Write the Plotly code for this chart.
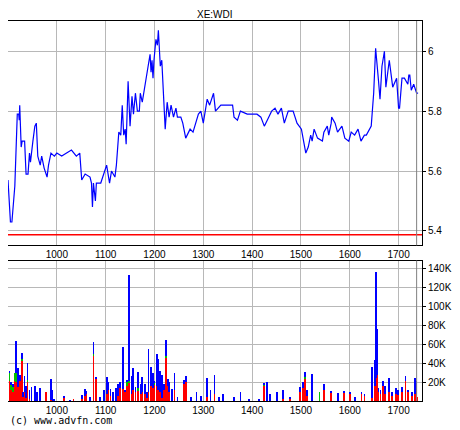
import plotly.graph_objects as go
from plotly.subplots import make_subplots

# price line (minute index, price)
price_x = [900, 905, 908, 914, 919, 922, 923, 924, 927, 929, 934, 937, 941, 944, 946, 949, 951,
           955, 958, 961, 966, 969, 974, 980, 983, 988, 995, 1000, 1010, 1020, 1030, 1040, 1047,
           1051, 1058, 1068, 1071, 1073, 1075, 1079, 1081, 1090, 1094, 1102, 1108, 1112, 1119,
           1122, 1127, 1131, 1134, 1137, 1140, 1142, 1146, 1150, 1154, 1157, 1161, 1165, 1169,
           1171, 1175, 1180, 1185, 1191, 1193, 1195, 1197, 1199, 1203, 1206, 1208, 1212, 1215,
           1219, 1222, 1226, 1230, 1234, 1239, 1244, 1247, 1254, 1258, 1264, 1273, 1279, 1285,
           1290, 1295, 1300, 1304, 1308, 1313, 1321, 1325, 1336, 1360, 1363, 1370, 1376, 1390,
           1410, 1418, 1425, 1434, 1440, 1447, 1453, 1460, 1466, 1474, 1484, 1492, 1501, 1510,
           1515, 1520, 1523, 1527, 1534, 1544, 1547, 1554, 1557, 1562, 1563, 1570, 1575, 1584,
           1590, 1598, 1603, 1610, 1617, 1623, 1630, 1634, 1644, 1649, 1653, 1659, 1662, 1666,
           1671, 1674, 1681, 1688, 1696, 1700, 1702, 1707, 1712, 1719, 1721, 1723, 1726, 1731,
           1737, 1740, 1745]
price_y = [5.57, 5.43, 5.43, 5.55, 5.79, 5.79, 5.77, 5.82, 5.68, 5.70, 5.70, 5.59, 5.59, 5.66,
           5.63, 5.68, 5.70, 5.75, 5.76, 5.65, 5.62, 5.65, 5.61, 5.58, 5.62, 5.66, 5.65, 5.66,
           5.65, 5.66, 5.67, 5.65, 5.66, 5.57, 5.59, 5.58, 5.56, 5.48, 5.56, 5.50, 5.56, 5.56,
           5.58, 5.62, 5.56, 5.60, 5.58, 5.62, 5.73, 5.72, 5.82, 5.72, 5.74, 5.69, 5.90, 5.75,
           5.85, 5.79, 5.86, 5.80, 5.80, 5.86, 5.83, 5.88, 5.93, 5.99, 5.93, 5.97, 5.91, 5.97,
           6.04, 6.02, 6.07, 5.95, 5.97, 5.85, 5.74, 5.83, 5.78, 5.82, 5.78, 5.81, 5.78, 5.78,
           5.76, 5.71, 5.74, 5.73, 5.76, 5.79, 5.80, 5.76, 5.80, 5.84, 5.82, 5.86, 5.80, 5.82,
           5.82, 5.78, 5.77, 5.80, 5.79, 5.79, 5.78, 5.75, 5.78, 5.80, 5.81, 5.79, 5.81, 5.76,
           5.80, 5.80, 5.76, 5.74, 5.66, 5.68, 5.72, 5.70, 5.74, 5.71, 5.70, 5.73, 5.75, 5.72,
           5.76, 5.78, 5.76, 5.73, 5.75, 5.71, 5.70, 5.73, 5.72, 5.74, 5.70, 5.72, 5.72, 5.75,
           5.86, 6.01, 5.90, 5.84, 5.95, 6.00, 5.88, 5.97, 5.88, 5.91, 5.81, 5.81, 5.91, 5.91,
           5.89, 5.92, 5.92, 5.87, 5.89, 5.86, 5.86]

# volume bars: total (blue top), red and green parts, in thousands
vol_x = [903, 906, 910, 915, 917, 920, 925, 928, 931, 934, 937, 940, 944, 948, 955, 959, 965,
         978, 988, 991, 995, 1014, 1027, 1034, 1051, 1058, 1061, 1068, 1075, 1080, 1088, 1097,
         1102, 1105, 1110, 1115, 1121, 1125, 1129, 1136, 1139, 1144, 1148, 1153, 1156, 1161,
         1166, 1172, 1175, 1180, 1184, 1188, 1193, 1197, 1200, 1205, 1208, 1212, 1215, 1219,
         1224, 1227, 1230, 1236, 1241, 1247, 1261, 1265, 1275, 1286, 1295, 1308, 1315, 1323,
         1332, 1341, 1363, 1376, 1393, 1414, 1424, 1431, 1437, 1451, 1464, 1478, 1498, 1505,
         1508, 1513, 1522, 1538, 1548, 1561, 1576, 1588, 1600, 1610, 1624, 1630, 1646, 1651,
         1654, 1656, 1659, 1663, 1668, 1672, 1680, 1687, 1694, 1699, 1707, 1714, 1719, 1728,
         1733, 1736, 1739]
vol_total = [32, 20, 18, 30, 64, 35, 28, 51, 10, 27, 16, 41, 12, 15, 16, 10, 14, 10, 24, 12, 3,
             5, 2, 3, 7, 13, 11, 5, 63, 25, 5, 12, 26, 20, 13, 10, 14, 18, 20, 57, 12, 23, 133,
             27, 35, 15, 31, 18, 26, 18, 10, 55, 36, 30, 22, 50, 45, 32, 28, 18, 65, 24, 20, 13,
             30, 5, 23, 27, 5, 10, 6, 25, 12, 28, 5, 8, 5, 10, 3, 3, 19, 21, 8, 10, 12, 5, 15,
             20, 31, 12, 29, 10, 18, 10, 9, 10, 10, 5, 10, 8, 36, 44, 136, 76, 14, 12, 22, 16,
             25, 10, 14, 12, 15, 27, 12, 10, 25, 22, 5]
vol_red = [22, 12, 10, 22, 20, 15, 22, 43, 5, 10, 4, 20, 3, 0, 0, 0, 0, 10, 2, 0, 0, 4, 0, 3, 3,
           6, 8, 0, 48, 24, 0, 0, 8, 12, 6, 0, 0, 6, 14, 13, 10, 16, 20, 8, 12, 10, 12, 8, 10, 8,
           4, 10, 16, 14, 18, 16, 12, 10, 4, 12, 46, 16, 10, 0, 12, 0, 18, 20, 0, 0, 0, 5, 0, 8,
           0, 0, 0, 0, 0, 0, 17, 0, 0, 0, 3, 3, 10, 14, 24, 6, 0, 0, 12, 9, 0, 9, 8, 0, 8, 6, 4,
           16, 25, 28, 10, 8, 16, 8, 10, 6, 8, 7, 10, 22, 10, 6, 8, 12, 5]
vol_green = [8, 5, 6, 8, 10, 0, 0, 2, 0, 0, 0, 3, 0, 0, 0, 0, 0, 0, 0, 0, 0, 0, 0, 0, 0, 0, 0, 0,
             2, 0, 0, 0, 0, 0, 0, 0, 0, 0, 0, 0, 0, 4, 2, 0, 0, 0, 2, 0, 0, 0, 0, 0, 0, 0, 2, 0,
             0, 0, 0, 0, 2, 0, 0, 0, 0, 0, 0, 0, 0, 0, 0, 0, 0, 0, 0, 0, 0, 0, 0, 0, 1, 0, 0, 0,
             0, 0, 0, 0, 2, 0, 0, 10, 0, 0, 0, 0, 0, 0, 0, 0, 0, 0, 0, 0, 0, 0, 0, 0, 0, 0, 0, 0,
             0, 0, 0, 0, 0, 0, 0]
vol_blue = [t - r - g for t, r, g in zip(vol_total, vol_red, vol_green)]

ref_price = 5.387
marker_x = 1737
price_ticks = [5.4, 5.6, 5.8, 6]
vol_ticks = [20, 40, 60, 80, 100, 120, 140]
vol_labels = [f"{v}K" for v in vol_ticks]
x_ticks = [1000, 1100, 1200, 1300, 1400, 1500, 1600, 1700]

fig = make_subplots(rows=2, cols=1, vertical_spacing=0.04, row_heights=[0.615, 0.385])
fig.add_trace(go.Scatter(x=price_x, y=price_y, mode="lines",
                         line=dict(color="#0000ff", width=1.2)), row=1, col=1)
for vals, col in [(vol_red, "#ff0000"), (vol_green, "#00c000"), (vol_blue, "#0000ff")]:
    fig.add_trace(go.Bar(x=vol_x, y=[v * 1000 for v in vals], marker_color=col,
                         marker_line_width=0, width=1.6), row=2, col=1)

fig.add_hline(y=ref_price, line=dict(color="#ff0000", width=1.5), row=1, col=1)
for r in (1, 2):
    fig.add_vline(x=marker_x, line=dict(color="#808080", width=1), row=r, col=1)

axis_common = dict(showline=True, linecolor="black", linewidth=1, mirror=True,
                   gridcolor="#b8b8b8", gridwidth=1, zeroline=False,
                   tickfont=dict(family="Liberation Sans, Arial", size=10, color="black"))
fig.update_xaxes(range=[900, 1748], tickvals=x_ticks, ticks="", **axis_common)
fig.update_yaxes(side="right", ticks="outside", ticklen=3, tickcolor="black", **axis_common)
fig.update_yaxes(range=[5.352, 6.101], tickvals=price_ticks, row=1, col=1)
fig.update_yaxes(range=[0, 148000], tickvals=[v * 1000 for v in vol_ticks],
                 ticktext=vol_labels, row=2, col=1)

# the page puts the figure 8px in from the top-left corner
fig.update_layout(
    width=452, height=422, margin=dict(l=0, r=38, t=13, b=29),
    paper_bgcolor="white", plot_bgcolor="white", showlegend=False,
    barmode="stack", bargap=0,
    font=dict(family="Liberation Sans, Arial", size=10, color="black"),
    annotations=[
        dict(text="XE:WDI", xref="paper", yref="paper", x=0.5, y=1.0, xanchor="center",
             yanchor="bottom", yshift=-1, showarrow=False, font=dict(size=10)),
        dict(text="(c) www.advfn.com", xref="paper", yref="paper", x=0,
             y=-0.072, xanchor="left", yanchor="bottom", showarrow=False,
             font=dict(family="DejaVu Sans Mono, monospace", size=10)),
    ],
)

fig.write_html("out.html")
